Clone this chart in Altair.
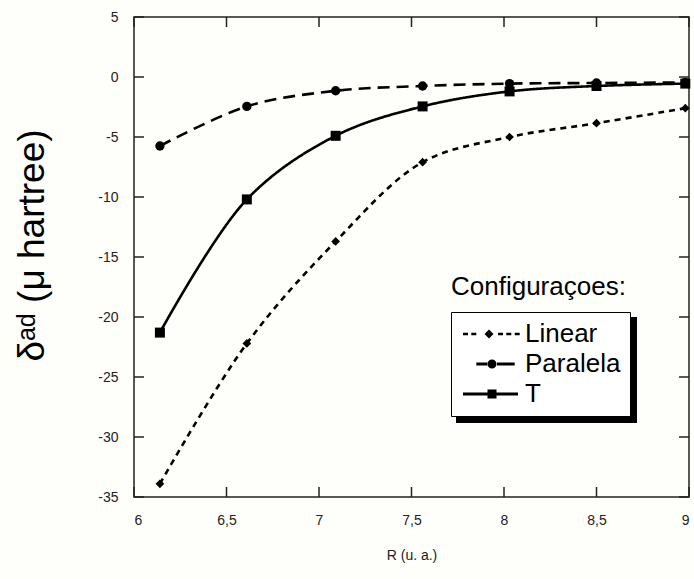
import altair as alt
import pandas as pd

# ---- data ----
R = [6.14, 6.61, 7.09, 7.56, 8.03, 8.50, 8.98]
linear = [-33.9, -22.2, -13.7, -7.1, -5.0, -3.85, -2.6]
paralela = [-5.75, -2.45, -1.15, -0.75, -0.55, -0.5, -0.45]
t_conf = [-21.3, -10.2, -4.9, -2.45, -1.2, -0.75, -0.55]
series_names = ["Linear", "Paralela", "T"]
x_ticks = [6, 6.5, 7, 7.5, 8, 8.5, 9]
y_ticks = [-35, -30, -25, -20, -15, -10, -5, 0, 5]
legend_title = "Configuraçoes:"
x_title = "R (u. a.)"
y_title = "δᵃᵈ (μ hartree)"

rows = []
for name, vals in zip(series_names, [linear, paralela, t_conf]):
    for r, v in zip(R, vals):
        rows.append({"R": r, "value": v, "series": name})
df = pd.DataFrame(rows)

W, H = 555, 480
FONT = "Liberation Sans"
INK = "#222222"

xs = alt.Scale(domain=[6, 9], nice=False, zero=False)
ys = alt.Scale(domain=[-35, 5], nice=False, zero=False)

x_axis = alt.Axis(values=x_ticks, labelExpr="replace(''+datum.value, '.', ',')",
                  ticks=False, domain=False, grid=False, labelPadding=16,
                  labelFontSize=14, labelFont=FONT, labelColor=INK,
                  title=x_title, titleFontSize=14, titleFontWeight="normal", titleFont=FONT,
                  titleColor=INK, titleY=58, titleBaseline="middle")
y_axis = alt.Axis(values=y_ticks, labelExpr="''+datum.value",
                  ticks=False, domain=False, grid=False, labelPadding=16,
                  labelFontSize=14, labelFont=FONT, labelColor=INK,
                  title=y_title, titleFontSize=37, titleFontWeight="normal", titleFont=FONT,
                  titleColor="black", titleAngle=270, titleX=-102, titleY=228,
                  titleAlign="center", titleBaseline="middle")


def X(field):
    return alt.X(field, scale=xs, axis=x_axis)


def Y(field):
    return alt.Y(field, scale=ys, axis=y_axis)


base = alt.Chart(df).encode(x=X("R:Q"), y=Y("value:Q"))

lines = base.mark_line(color="black", strokeWidth=2.6, interpolate="catmull-rom").encode(
    strokeDash=alt.StrokeDash("series:N", scale=alt.Scale(domain=series_names,
                              range=[[6, 5], [12, 7], [1, 0]]), legend=None),
    detail="series:N",
)

points = base.mark_point(filled=True, color="black", opacity=1).encode(
    shape=alt.Shape("series:N", scale=alt.Scale(domain=series_names,
                    range=["diamond", "circle", "square"]), legend=None),
    size=alt.Size("series:N", scale=alt.Scale(domain=series_names, range=[75, 100, 115]),
                  legend=None),
)


# legend symbols (unit = 10 px)
def bar(x1, x2, h=0.13):
    return f"M{x1},{-h}H{x2}V{h}H{x1}Z"


p_linear = "".join(bar(a, b) for a, b in [(-1.0, -0.5), (-0.17, 0.33), (2.5, 3.0), (3.33, 3.83), (4.17, 4.67)])
p_linear += "M1.15,0L1.6,-0.45L2.05,0L1.6,0.45Z"
p_paralela = bar(0.33, 1.5, 0.14) + bar(2.4, 4.17, 0.14)
p_paralela += "M1.45,0A0.45,0.45,0,1,0,2.35,0A0.45,0.45,0,1,0,1.45,0Z"
p_t = bar(-1.0, 4.5, 0.15) + "M1.45,-0.45H2.35V0.45H1.45Z"
legend_paths = [p_linear, p_paralela, p_t]

legend_layer = base.transform_filter("datum.value > 1000").mark_point(
    filled=True, color="black", opacity=1).encode(
    shape=alt.Shape("series:N", scale=alt.Scale(domain=series_names, range=legend_paths),
                    legend=alt.Legend(orient="none", legendX=317, legendY=295, title=None,
                                      padding=9, strokeColor="black", fillColor="white",
                                      labelFont=FONT, labelFontSize=26, labelColor="black",
                                      labelOffset=39, symbolSize=400, symbolStrokeWidth=0,
                                      rowPadding=4, cornerRadius=0, labelLimit=300))
)

xt = pd.DataFrame({"t": x_ticks})
yt = pd.DataFrame({"t": y_ticks})
tick_style = dict(color=INK, strokeWidth=1.5)
tick_bottom = alt.Chart(xt).mark_rule(**tick_style).encode(x=X("t:Q"), y=alt.value(H), y2=alt.value(H - 10))
tick_top = alt.Chart(xt).mark_rule(**tick_style).encode(x=X("t:Q"), y=alt.value(0), y2=alt.value(10))
tick_left = alt.Chart(yt).mark_rule(**tick_style).encode(y=Y("t:Q"), x=alt.value(0), x2=alt.value(10))
tick_right = alt.Chart(yt).mark_rule(**tick_style).encode(y=Y("t:Q"), x=alt.value(W - 10), x2=alt.value(W))

shadow = alt.Chart(pd.DataFrame({"k": [0]})).mark_rect(color="black").encode(
    x=alt.value(322), x2=alt.value(503), y=alt.value(300), y2=alt.value(406))

leg_title = alt.Chart(pd.DataFrame({"label": [legend_title]})).mark_text(
    align="left", baseline="alphabetic", fontSize=26, font=FONT, color="black").encode(
    x=alt.value(317), y=alt.value(278), text="label:N")

chart = alt.layer(
    shadow, lines, points, legend_layer, tick_bottom, tick_top, tick_left, tick_right, leg_title
).resolve_scale(shape="independent").resolve_legend(shape="independent").properties(
    width=W, height=H,
    autosize=alt.AutoSizeParams(type="none"),
    padding={"left": 134, "top": 17, "right": 5, "bottom": 82},
    background="#fefefb",
).configure_view(stroke=INK, strokeWidth=1.5)

chart.save("out.html", embed_options={"renderer": "svg", "actions": False})
